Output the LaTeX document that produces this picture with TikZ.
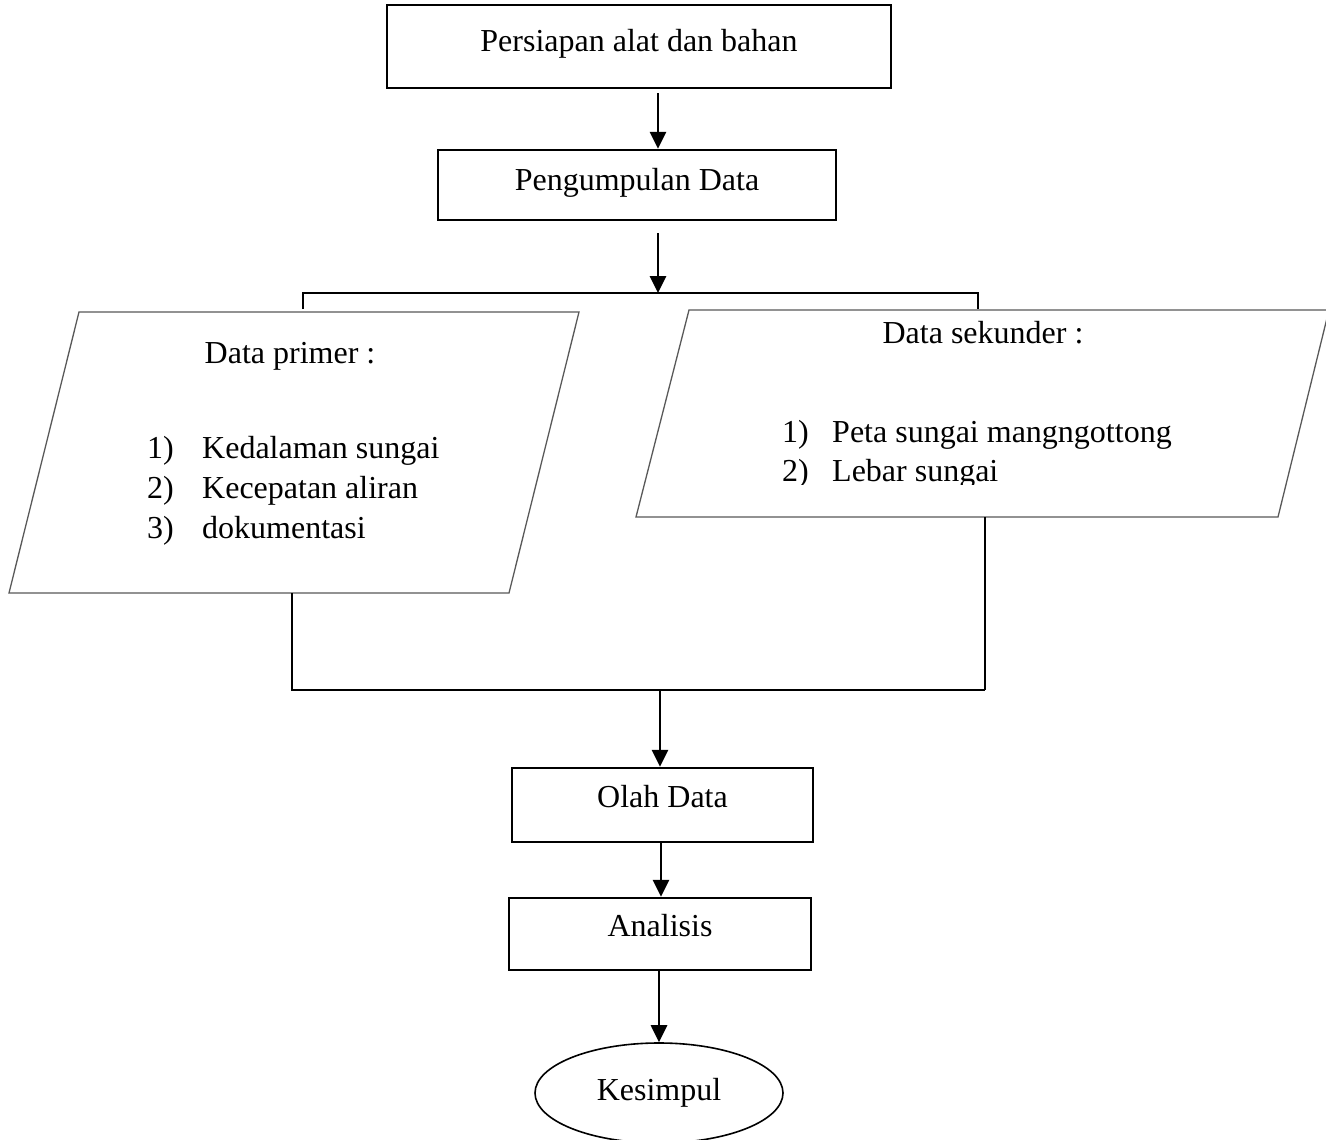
\documentclass[tikz,border=0pt]{standalone}
\usepackage{fontspec}
\setmainfont{Liberation Serif}
\usetikzlibrary{shapes.geometric,arrows.meta,calc}
\begin{document}
\begin{tikzpicture}[x=1pt,y=-1pt,
  every node/.style={font=\fontsize{32}{40}\selectfont, inner sep=0pt},
  procbox/.style={draw=black, line width=2.3pt, text height=22pt, text depth=11pt},
  lowbox/.style={draw=black, line width=2.3pt, text height=22pt, text depth=17pt},
  para/.style={draw=black!65, line width=1.3pt},
  conn/.style={line width=2.8pt, draw=black},
  arr/.style={line width=2.8pt, draw=black, -{Triangle[width=16pt,length=17pt]}},
  txt/.style={text height=22pt, text depth=8pt}]
\useasboundingbox[fill=white] (0,0) rectangle (1326,1140);

% process boxes
\node[procbox, minimum width=504pt, minimum height=83pt] (prep) at (639,46.5) {Persiapan alat dan bahan};
\node[procbox, minimum width=398pt, minimum height=70pt] (collect) at (637,185) {Pengumpulan Data};
\node[lowbox, minimum width=301pt, minimum height=74pt] (olah) at (662.5,805) {Olah Data};
\node[lowbox, minimum width=302pt, minimum height=72pt] (anal) at (660,934) {Analisis};
\node[draw=black, line width=1.6pt, ellipse, minimum width=248pt, minimum height=100pt] (concl) at (659,1093) {Kesimpul};

% parallelogram: data primer
\coordinate (p1a) at (79,312);
\coordinate (p1b) at (579,312);
\coordinate (p1c) at (509,593);
\coordinate (p1d) at (9,593);
\draw[para] (p1a) -- (p1b) -- (p1c) -- (p1d) -- cycle;
\node[txt, anchor=base] (primT) at (290,363) {Data primer :};
\node[txt, anchor=base west] (pn1) at (147,458) {1)};
\node[txt, anchor=base west] (pi1) at (202,458) {Kedalaman sungai};
\node[txt, anchor=base west] (pn2) at (147,498) {2)};
\node[txt, anchor=base west] (pi2) at (202,498) {Kecepatan aliran};
\node[txt, anchor=base west] (pn3) at (147,538) {3)};
\node[txt, anchor=base west] (pi3) at (202,538) {dokumentasi};

% parallelogram: data sekunder
\coordinate (p2a) at (689,310);
\coordinate (p2b) at (1329,310);
\coordinate (p2c) at (1278,517);
\coordinate (p2d) at (636,517);
\draw[para] (p2a) -- (p2b) -- (p2c) -- (p2d) -- cycle;
\node[txt, anchor=base] (sekT) at (983,343) {Data sekunder :};
\node[txt, anchor=base west] (sn1) at (782,442) {1)};
\node[txt, anchor=base west] (si1) at (832,442) {Peta sungai mangngottong};
\begin{scope}
  \clip (640,450) rectangle (1270,484);
  \node[txt, anchor=base west] (sn2) at (782,481) {2)};
  \node[txt, anchor=base west] (si2) at (832,481) {Lebar sungai};
\end{scope}

% split bracket
\coordinate (topL) at (303,293);
\coordinate (topR) at (978,293);
\coordinate (topM) at (658,293);
\coordinate (tickL) at (303,309);
\coordinate (tickR) at (978,309);
\draw[conn] (tickL) -- (topL) -- (topR) -- (tickR);

% join bracket
\coordinate (outL) at (292,593);
\coordinate (outR) at (985,517);
\coordinate (botL) at (292,690);
\coordinate (botR) at (985,690);
\coordinate (botM) at (660,690);
\draw[conn] (outL) -- (botL) -- (botR);
\draw[line width=2pt] (outR) -- (botR);

% arrows
\draw[arr] ([yshift=-4pt]prep.south -| topM) -- (collect.north -| topM);
\draw[arr] ([yshift=-12pt]collect.south -| topM) -- (topM);
\draw[arr] (botM) -- (olah.north -| botM);
\draw[arr] (olah.south -| 661,0) -- (anal.north -| 661,0);
\draw[arr] (anal.south -| concl.north) -- (concl.north);
\end{tikzpicture}
\end{document}
